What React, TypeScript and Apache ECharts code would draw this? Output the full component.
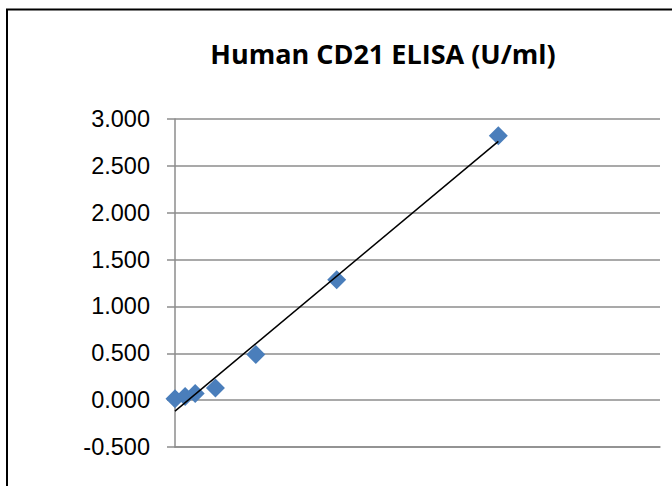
import React, { useEffect, useRef } from "react";
import * as echarts from "echarts";

const concentrations = [0, 1.5625, 3.125, 6.25, 12.5, 25, 50];
const absorbance = [0.014, 0.04, 0.07, 0.13, 0.488, 1.286, 2.82];
const yTicks = [-0.5, 0, 0.5, 1, 1.5, 2, 2.5, 3];
const titleText = "Human CD21 ELISA (U/ml)";

function linearFit(xs: number[], ys: number[]) {
  const n = xs.length;
  const mx = xs.reduce((a, b) => a + b, 0) / n;
  const my = ys.reduce((a, b) => a + b, 0) / n;
  let sxy = 0;
  let sxx = 0;
  for (let i = 0; i < n; i++) {
    sxy += (xs[i] - mx) * (ys[i] - my);
    sxx += (xs[i] - mx) * (xs[i] - mx);
  }
  const slope = sxy / sxx;
  return { slope, intercept: my - slope * mx };
}

export default function App() {
  const ref = useRef<HTMLDivElement>(null);
  useEffect(() => {
    if (!ref.current) return;
    const chart = echarts.init(ref.current, null, { renderer: "svg" });
    const fit = linearFit(concentrations, absorbance);
    const xMin = Math.min(...concentrations);
    const xMax = Math.max(...concentrations);
    const trend = [
      [xMin, fit.intercept + fit.slope * xMin],
      [xMax, fit.intercept + fit.slope * xMax],
    ];
    chart.setOption({
      animation: false,
      backgroundColor: "#ffffff",
      textStyle: { fontFamily: "Liberation Sans" },
      grid: { left: 175, right: 12, top: 119, bottom: 39, containLabel: false },
      graphic: [
        {
          type: "rect",
          shape: { x: 7, y: 9.5, width: 800, height: 700 },
          style: { fill: "none", stroke: "#000000", lineWidth: 2 },
          z: 10,
        },
        {
          type: "text",
          x: 383,
          y: 53,
          style: {
            text: titleText,
            font: "bold 27px 'Open Sans'",
            fill: "#000000",
            textAlign: "center",
            textVerticalAlign: "middle",
          },
        },
      ],
      xAxis: {
        type: "value",
        min: 0,
        max: 75,
        axisLabel: { show: false },
        axisTick: { show: false },
        axisLine: { show: true, onZero: false, lineStyle: { color: "#8c8c8c", width: 1.5 } },
        splitLine: { show: false },
      },
      yAxis: {
        type: "value",
        min: yTicks[0],
        max: yTicks[yTicks.length - 1],
        interval: 0.5,
        axisLine: { show: true, lineStyle: { color: "#8c8c8c", width: 1.5 } },
        axisTick: { show: true, inside: false, length: 8, lineStyle: { color: "#8c8c8c", width: 1.5 } },
        axisLabel: {
          formatter: (v: number) => v.toFixed(3),
          fontSize: 23.5,
          color: "#000000",
          margin: 25,
          fontFamily: "Liberation Sans",
        },
        splitLine: { show: true, lineStyle: { color: "#8c8c8c", width: 1.5 } },
      },
      series: [
        {
          type: "line",
          data: trend,
          symbol: "none",
          lineStyle: { color: "#000000", width: 1.5 },
          z: 3,
        },
        {
          type: "scatter",
          data: concentrations.map((x, i) => [x, absorbance[i]]),
          symbol: "diamond",
          symbolSize: 19,
          itemStyle: { color: "#4a7ebb", opacity: 1 },
          z: 2,
        },
      ],
    });
    return () => chart.dispose();
  }, []);
  return (
    <div
      ref={ref}
      style={{ position: "fixed", left: 0, top: 0, width: 672, height: 486 }}
    />
  );
}
